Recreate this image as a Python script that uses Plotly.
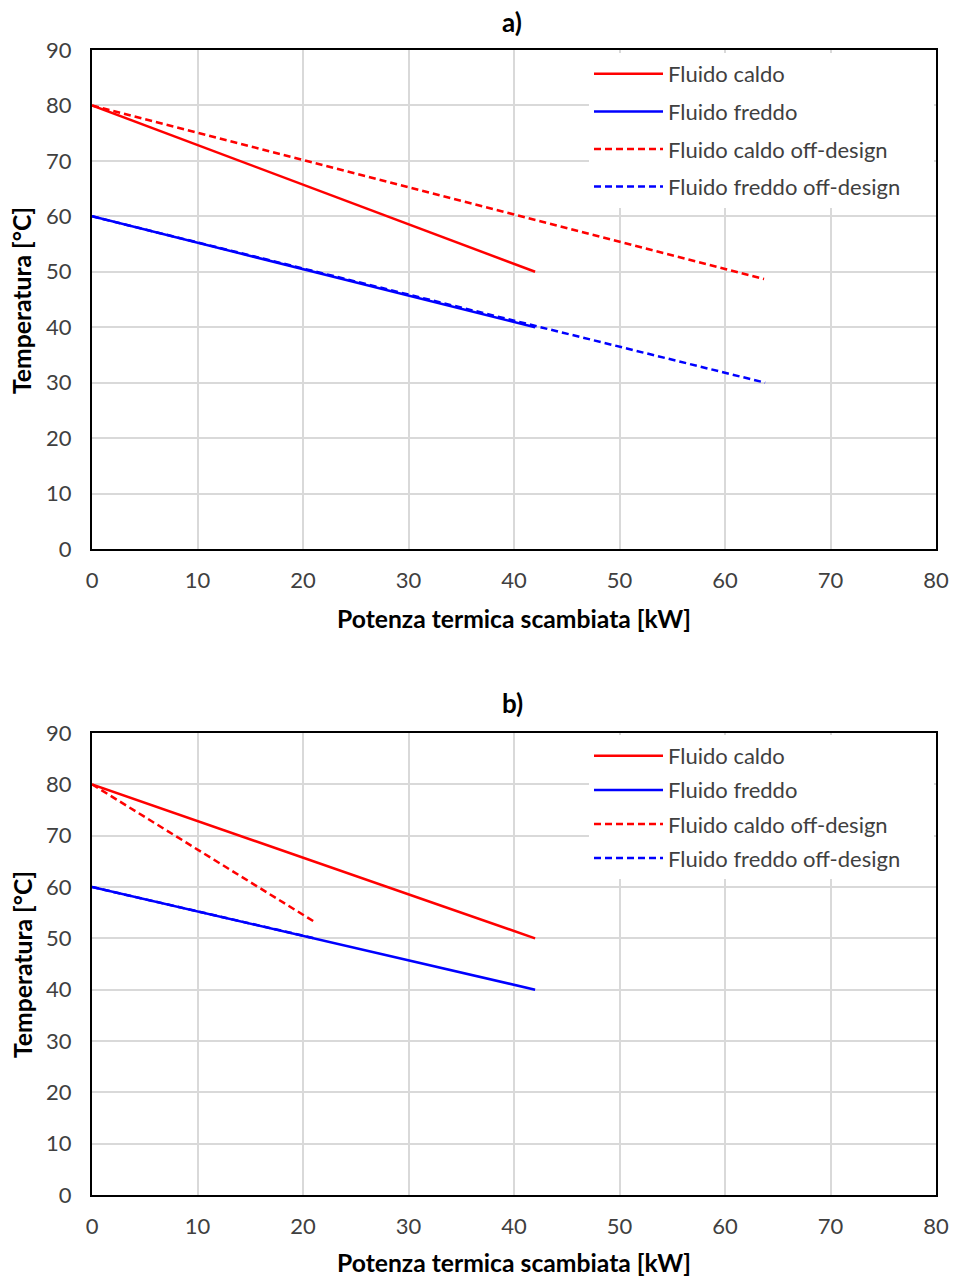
import plotly.graph_objects as go

# Data (kW, °C)
a_hot_x = [0, 42]
a_hot_y = [80, 50]
a_cold_x = [0, 42]
a_cold_y = [60, 40]
a_hot_off_x = [0, 63.7]
a_hot_off_y = [80, 48.7]
a_cold_off_x = [0, 63.8]
a_cold_off_y = [60, 30]

b_hot_x = [0, 42]
b_hot_y = [80, 50]
b_cold_x = [0, 42]
b_cold_y = [60, 40]
b_hot_off_x = [0, 21.1]
b_hot_off_y = [80, 53.2]
b_cold_off_x = [0, 21.1]
b_cold_off_y = [60, 50]

x_ticks = [0, 10, 20, 30, 40, 50, 60, 70, 80]
y_ticks = [0, 10, 20, 30, 40, 50, 60, 70, 80, 90]

names = ["Fluido caldo", "Fluido freddo", "Fluido caldo off-design",
         "Fluido freddo off-design"]

FONT = "Lato, 'Open Sans', sans-serif"
RED = "#ff0000"
BLUE = "#0000ff"
TICKCOL = "#404040"
PAD = "\u00a0" * 5   # widens the white legend box so it hides the gridlines

fig = go.Figure()

def add_set(xa, ya, leg, hx, hy, cx, cy, hox, hoy, cox, coy):
    fig.add_trace(go.Scatter(x=hx, y=hy, mode="lines", name=names[0],
                             line=dict(color=RED, width=2.5),
                             xaxis=xa, yaxis=ya, legend=leg, legendgroup=leg + "1"))
    fig.add_trace(go.Scatter(x=cx, y=cy, mode="lines", name=names[1],
                             line=dict(color=BLUE, width=2.5),
                             xaxis=xa, yaxis=ya, legend=leg, legendgroup=leg + "2"))
    fig.add_trace(go.Scatter(x=hox, y=hoy, mode="lines", name=names[2],
                             line=dict(color=RED, width=2.5, dash="7px,4px"),
                             xaxis=xa, yaxis=ya, legend=leg, legendgroup=leg + "3"))
    fig.add_trace(go.Scatter(x=cox, y=coy, mode="lines", name=names[3] + PAD,
                             line=dict(color=BLUE, width=2.5, dash="7px,4px"),
                             xaxis=xa, yaxis=ya, legend=leg, legendgroup=leg + "4"))

add_set("x", "y", "legend", a_hot_x, a_hot_y, a_cold_x, a_cold_y,
        a_hot_off_x, a_hot_off_y, a_cold_off_x, a_cold_off_y)
add_set("x2", "y2", "legend2", b_hot_x, b_hot_y, b_cold_x, b_cold_y,
        b_hot_off_x, b_hot_off_y, b_cold_off_x, b_cold_off_y)

W, H = 954, 1278
xdom = [92 / W, 936 / W]
ydom_a = [1 - 549 / H, 1 - 50 / H]
ydom_b = [1 - 1195 / H, 1 - 733 / H]

axis_common = dict(showgrid=True, gridcolor="#d9d9d9", gridwidth=2,
                   showline=True, linecolor="black", linewidth=2, mirror=True,
                   ticks="", zeroline=False,
                   tickfont=dict(family=FONT, size=22, color=TICKCOL))
xaxis_common = dict(axis_common, ticklabelstandoff=11)
yaxis_common = dict(axis_common, ticklabelstandoff=14)

legend_common = dict(xanchor="left", yanchor="top", bgcolor="white",
                     itemwidth=69, traceorder="grouped",
                     font=dict(family=FONT, size=22, color=TICKCOL))

fig.update_layout(
    width=W, height=H,
    margin=dict(l=0, r=0, t=0, b=0, autoexpand=False),
    paper_bgcolor="white", plot_bgcolor="white",
    font=dict(family=FONT, color=TICKCOL),
    xaxis=dict(domain=xdom, anchor="y", range=[0, 80], tickvals=x_ticks, **xaxis_common),
    yaxis=dict(domain=ydom_a, anchor="x", range=[0, 90], tickvals=y_ticks, **yaxis_common),
    xaxis2=dict(domain=xdom, anchor="y2", range=[0, 80], tickvals=x_ticks, **xaxis_common),
    yaxis2=dict(domain=ydom_b, anchor="x2", range=[0, 90], tickvals=y_ticks, **yaxis_common),
    legend=dict(x=589 / W, y=1 - 53 / H, tracegroupgap=6, **legend_common),
    legend2=dict(x=589 / W, y=1 - 735 / H, tracegroupgap=2.5, **legend_common),
    showlegend=True,
)

ann = []
ann.append(dict(text="<b>a)</b>", x=512 / W, y=1 - 22 / H, size=26))
ann.append(dict(text="<b>b)</b>", x=512 / W, y=1 - 703 / H, size=26))
ann.append(dict(text="<b>Potenza termica scambiata [kW]</b>", x=514 / W, y=1 - 618 / H, size=24.7))
ann.append(dict(text="<b>Potenza termica scambiata [kW]</b>", x=514 / W, y=1 - 1262 / H, size=24.7))
for a in ann:
    size = a.pop("size")
    a.update(xref="paper", yref="paper", showarrow=False, xanchor="center", yanchor="middle",
             font=dict(family=FONT, size=size, color="black"))
    fig.add_annotation(**a)
for yc in [301, 965]:
    fig.add_annotation(text="<b>Temperatura [°C]</b>", x=22 / W, y=1 - yc / H,
                       xref="paper", yref="paper", showarrow=False, textangle=-90,
                       xanchor="center", yanchor="middle",
                       font=dict(family=FONT, size=24.7, color="black"))

fig.write_html("out.html", config={"displayModeBar": False},
               post_script="document.body.style.margin='0';document.body.style.overflow='hidden';")
